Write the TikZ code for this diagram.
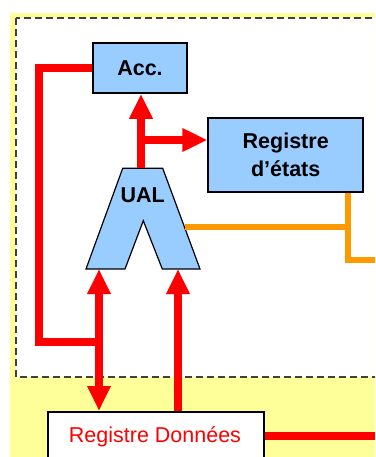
\documentclass[tikz,border=0pt]{standalone}
\usepackage{fontspec}
\setmainfont{Liberation Sans}
\usetikzlibrary{arrows.meta}
\definecolor{bgyellow}{HTML}{FFFF99}
\definecolor{boxblue}{HTML}{99CCFF}
\definecolor{busred}{HTML}{FF0000}
\definecolor{flagorange}{HTML}{FF9900}
\definecolor{dashgray}{HTML}{404040}
\tikzset{
  unitbox/.style={draw=black, line width=1.6pt, fill=boxblue, inner sep=0pt,
    font=\fontsize{21.5}{28.3}\selectfont\bfseries, align=center},
  bus/.style={draw=busred, line width=8pt, line join=miter},
  busarrow/.style={bus, -{Triangle[length=25pt,width=22pt]}},
  busboth/.style={bus, {Triangle[length=25pt,width=22pt]}-{Triangle[length=25pt,width=22pt]}},
  flagline/.style={draw=flagorange, line width=5.5pt, line join=miter},
}
\begin{document}
\begin{tikzpicture}[x=1pt, y=-1pt]
\useasboundingbox (0,0) rectangle (375,457);
\clip (0,0) rectangle (375,457);

% background zones
\fill[bgyellow] (10,13) rectangle (380,460);
\draw[dashgray, fill=white, line width=1.8pt, dash pattern=on 7pt off 4pt]
  (16,18) rectangle (385,377);

% units
\node[unitbox, minimum width=94pt, minimum height=50pt] (acc) at (140,68) {Acc.};
\node[unitbox, minimum width=155pt, minimum height=74pt] (etat) at (285.7,155) {Registre\\d’états};

% arithmetic and logic unit (V-notched trapezoid)
\draw[fill=boxblue, line width=1.2pt, line join=miter]
  (122.7,168.3) -- (162.7,168.3) -- (200,269) -- (162.3,269) -- (143.3,220.7)
  -- (125,269) -- (86,269) -- cycle;
\node[font=\fontsize{21.5}{25}\selectfont\bfseries] (ual) at (142.7,195) {UAL};
\coordinate (ualtop) at (141,168.3);
\coordinate (ualL) at (99,269);
\coordinate (ualR) at (178,269);
\coordinate (ualE) at (184.5,227);

% data register
\node[draw=black, line width=1.6pt, fill=white, minimum width=216pt, minimum height=70pt,
  anchor=north west, inner sep=0pt] (rd) at (47,411) {};
\node[text=busred, font=\fontsize{21.5}{25}\selectfont] (rdtxt) at (155,437) {Registre Données};

% red data paths
\coordinate (j) at (141,140);
\coordinate (jl) at (99,342);
\coordinate (rdout) at (375,436);
\draw[busarrow] (ualtop) -- (ualtop |- acc.south);
\draw[busarrow] (j) -- (j -| etat.west);
\draw[bus] (acc.west) -- ++(-53,0) |- (jl);
\draw[busboth] (ualL) -- (ualL |- rd.north);
\draw[busarrow] (ualR |- rd.north) -- (ualR);
\draw[bus] (rd.east |- rdout) -- (rdout);

% orange status lines
\coordinate (sv) at (348,227);
\coordinate (sout) at (380,260);
\draw[flagline] (ualE) -- (sv);
\draw[flagline] (etat.south -| sv) -- (sv |- sout) -- (sout);
\end{tikzpicture}
\end{document}
